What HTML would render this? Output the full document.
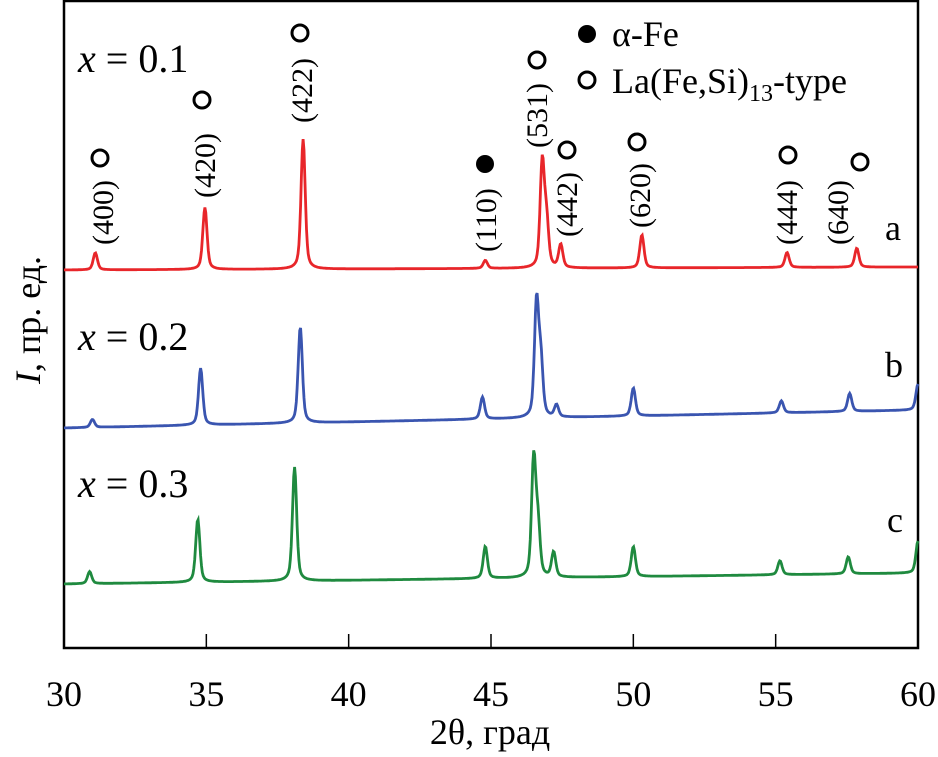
<!DOCTYPE html>
<html><head><meta charset="utf-8"><style>
body{margin:0;background:#fff}
svg{display:block}
svg text{font-family:"Liberation Serif","DejaVu Serif",serif !important}
</style></head><body>
<svg id="chart" width="938" height="757" viewBox="0 0 938 757" font-family="Liberation Serif, serif">
<rect x="64" y="1" width="854" height="647" fill="none" stroke="#000" stroke-width="2.5"/>
<g id="ticks"></g>
<g id="series"></g>
<g id="labels"></g>
<text x="78" y="72" font-size="40"><tspan font-style="italic">x</tspan> = 0.1</text>
<text x="78" y="350" font-size="40"><tspan font-style="italic">x</tspan> = 0.2</text>
<text x="78" y="497" font-size="40"><tspan font-style="italic">x</tspan> = 0.3</text>
<text x="885" y="240" font-size="36">a</text>
<text x="885" y="377" font-size="36">b</text>
<text x="887" y="532" font-size="36">c</text>
<text transform="translate(40,320) rotate(-90)" text-anchor="middle" font-size="36"><tspan font-style="italic">I</tspan>, пр. ед.</text>
<text x="490" y="744" text-anchor="middle" font-size="36">2θ, град</text>
<circle cx="587" cy="34" r="9" fill="#000"/>
<text x="612" y="46" font-size="36">α-Fe</text>
<circle cx="587" cy="80" r="8" fill="none" stroke="#000" stroke-width="3"/>
<text x="612" y="93" font-size="36">La(Fe,Si)<tspan font-size="24" dy="8">13</tspan><tspan dy="-8">-type</tspan></text>
</svg>
<script>
const ticks=[30,35,40,45,50,55,60];
const posA=[31.1,34.95,38.4,44.8,46.8,46.95,47.45,50.3,55.4,57.85];
const intA=[17,62,130,8,105,45,23,33,15,19];
const baseA=[270,267];
const posB=[31.0,34.8,38.3,44.7,46.6,46.75,47.3,50.0,55.2,57.6,60.0];
const intB=[8,57,96,22,115,55,12,28,12,18,26];
const baseB=[428,410];
const posC=[30.9,34.7,38.1,44.8,46.5,46.65,47.2,50.0,55.15,57.55,60.0];
const intC=[12,63,114,32,118,50,25,30,14,17,32];
const baseC=[584,573];
const labelsHkl=["(400)","(420)","(422)","(110)","(531)","(442)","(620)","(444)","(640)"];
const labelPos=[31.1,34.95,38.4,44.8,46.8,47.45,50.3,55.4,57.85];
const NS="http://www.w3.org/2000/svg";
const X=v=>64+(v-30)*854/30;
const tg=document.getElementById('ticks');
ticks.forEach(t=>{
  const l=document.createElementNS(NS,'line');
  l.setAttribute('x1',X(t));l.setAttribute('x2',X(t));l.setAttribute('y1',648);l.setAttribute('y2',t==30||t==60?648:634);
  l.setAttribute('stroke','#000');l.setAttribute('stroke-width','1.5');
  
  
  tg.appendChild(l);
  const tx=document.createElementNS(NS,'text');
  tx.setAttribute('x',X(t));tx.setAttribute('y',706);tx.setAttribute('text-anchor','middle');tx.setAttribute('font-size','36');
  tx.textContent=t;
  
  
  tg.appendChild(tx);
});
function draw(pos,inten,base,color,name){
  let d='';
  for(let v=30;v<=60.001;v+=0.03){
    let y=base[0]+(base[1]-base[0])*(v-30)/30;
    for(let i=0;i<pos.length;i++){const w=0.1;const z=(v-pos[i])/w;y-=inten[i]*(0.6*Math.exp(-z*z)+0.4/(1+z*z));}
    d+=(d?'L':'M')+X(v).toFixed(1)+','+y.toFixed(1);
  }
  const p=document.createElementNS(NS,'path');
  p.setAttribute('d',d);p.setAttribute('fill','none');p.setAttribute('stroke',color);p.setAttribute('stroke-width','2.8');
  
  
  document.getElementById('series').appendChild(p);
}
draw(posA,intA,baseA,'#e8262a','series-a-x01');
draw(posB,intB,baseB,'#3a55b0','series-b-x02');
draw(posC,intC,baseC,'#1f8a3f','series-c-x03');
const lab=[[103,245,100,158],[205,198,202,100],[302,123,300,33],[486,252,485,164],[537,148,537,60],[567,237,567,150],[640,228,637,142],[787,245,788,155],[838,245,860,162]];
const lg=document.getElementById('labels');
labelsHkl.forEach((s,i)=>{
  const [tx,ty,cx,cy]=lab[i];
  const t=document.createElementNS(NS,'text');
  t.setAttribute('transform',`translate(${tx+10},${ty}) rotate(-90)`);t.setAttribute('font-size','30');
  t.textContent=s;
  
  
  lg.appendChild(t);
  const c=document.createElementNS(NS,'circle');
  c.setAttribute('cx',cx);c.setAttribute('cy',cy);
  if(s==="(110)"){c.setAttribute('r',9);c.setAttribute('fill','#000');}
  else{c.setAttribute('r',8);c.setAttribute('fill','none');c.setAttribute('stroke','#000');c.setAttribute('stroke-width','3');}
  
  
  lg.appendChild(c);
});
</script>
</body></html>
